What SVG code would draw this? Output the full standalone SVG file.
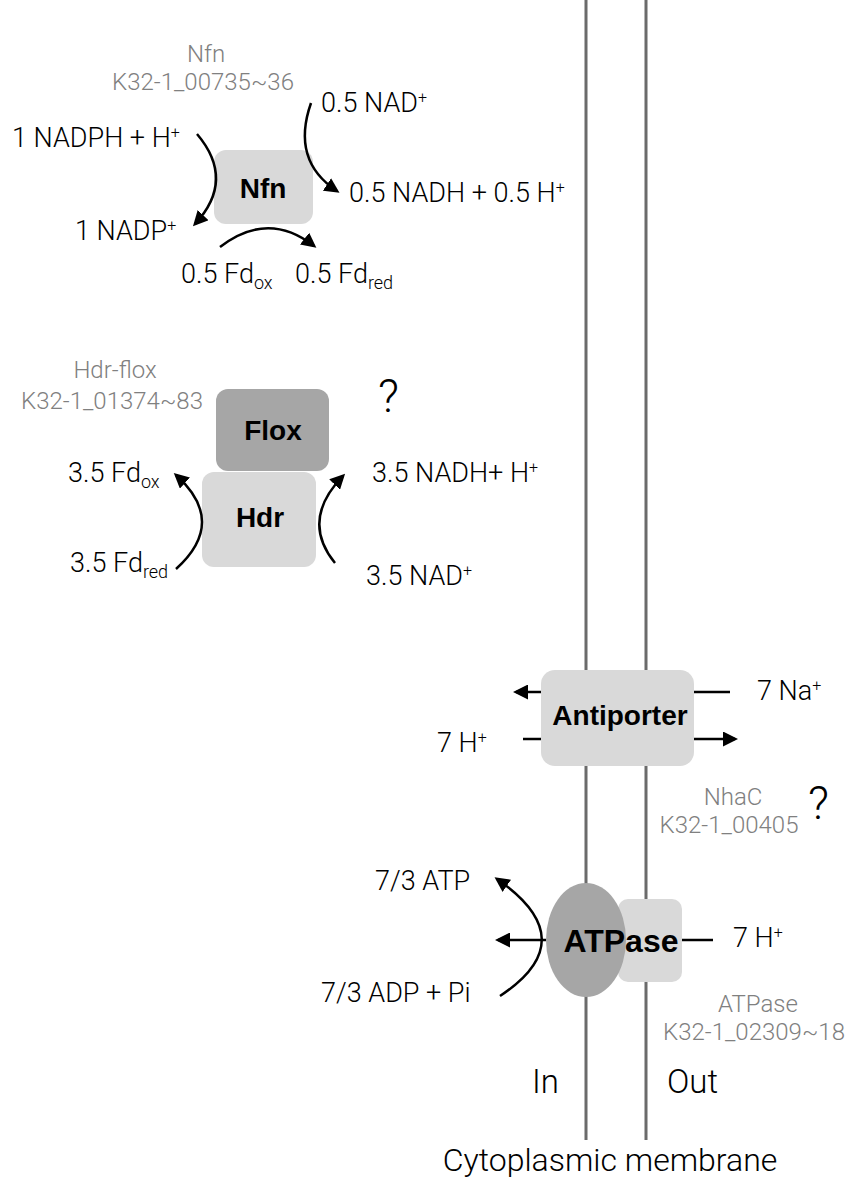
<svg xmlns="http://www.w3.org/2000/svg" width="851" height="1197" viewBox="0 0 851 1197">
<defs>
<style>
.t{font-family:Roboto,"Liberation Sans",sans-serif;font-weight:300;font-size:27px;fill:#000}
.g{font-family:Roboto,"Liberation Sans",sans-serif;font-weight:300;font-size:24px;fill:#808080}
.b{font-family:"Liberation Sans",Arial,sans-serif;font-weight:bold;fill:#000}
.q{font-family:Roboto,"Liberation Sans",sans-serif;font-weight:300;font-size:46px;fill:#000}
.sp{font-size:16px}
.sb{font-size:18px}
.lt{fill:#d9d9d9}
.dk{fill:#a6a6a6}
.mem{stroke:#6b6b6b;stroke-width:3;fill:none}
.c{stroke:#000;stroke-width:2.5;fill:none;marker-end:url(#ah)}
.l{stroke:#000;stroke-width:2.5;fill:none}
</style>
<marker id="ah" viewBox="0 0 10 10" refX="8" refY="5" markerWidth="6" markerHeight="6" markerUnits="strokeWidth" orient="auto">
<path d="M0,0 L10,5 L0,10 z" fill="#000"/>
</marker>
</defs>
<rect width="851" height="1197" fill="#fff"/>
<g id="membrane">
<line class="mem" x1="586" y1="0" x2="586" y2="1140"/>
<line class="mem" x1="646" y1="0" x2="646" y2="1140"/>
<text class="t" x="532" y="1093" style="font-size:33px">In</text>
<text class="t" x="667" y="1093" style="font-size:33px">Out</text>
<text class="t" x="610" y="1171" text-anchor="middle" style="font-size:32px">Cytoplasmic membrane</text>
</g>
<g id="nfn">
<text class="g" x="206" y="62" text-anchor="middle">Nfn</text>
<text class="g" x="203" y="90" text-anchor="middle">K32-1_00735~36</text>
<rect class="lt" x="214" y="150" width="99" height="74" rx="12"/>
<text class="b" x="263" y="198" text-anchor="middle" font-size="28">Nfn</text>
</g>
<g id="nfn-labels">
<text class="t" x="321" y="112">0.5 NAD<tspan class="sp" dy="-9">+</tspan></text>
<text class="t" x="12" y="147">1 NADPH + H<tspan class="sp" dy="-9">+</tspan></text>
<text class="t" x="349" y="202">0.5 NADH + 0.5 H<tspan class="sp" dy="-9">+</tspan></text>
<text class="t" x="75" y="240">1 NADP<tspan class="sp" dy="-9">+</tspan></text>
<text class="t" x="181" y="283">0.5 Fd<tspan class="sb" dy="6">ox</tspan></text>
<text class="t" x="295" y="283">0.5 Fd<tspan class="sb" dy="6">red</tspan></text>
</g>
<g id="hdrflox">
<text class="g" x="115" y="378" text-anchor="middle">Hdr-flox</text>
<text class="g" x="112" y="409" text-anchor="middle">K32-1_01374~83</text>
<text class="q" x="378" y="412">?</text>
<rect class="dk" x="216" y="389" width="113" height="82" rx="12"/>
<text class="b" x="273" y="440" text-anchor="middle" font-size="28">Flox</text>
<rect class="lt" x="202" y="472" width="114" height="95" rx="12"/>
<text class="b" x="260" y="527" text-anchor="middle" font-size="28">Hdr</text>
</g>
<g id="hdr-labels">
<text class="t" x="68" y="482">3.5 Fd<tspan class="sb" dy="6">ox</tspan></text>
<text class="t" x="70" y="572">3.5 Fd<tspan class="sb" dy="6">red</tspan></text>
<text class="t" x="372" y="482">3.5 NADH+ H<tspan class="sp" dy="-9">+</tspan></text>
<text class="t" x="366" y="585">3.5 NAD<tspan class="sp" dy="-9">+</tspan></text>
</g>
<g id="antiporter">
<rect class="lt" x="541" y="670" width="153" height="96" rx="14"/>
<text class="b" x="620" y="725" text-anchor="middle" font-size="28">Antiporter</text>
<text class="t" x="437" y="752">7 H<tspan class="sp" dy="-9">+</tspan></text>
<text class="t" x="757" y="700">7 Na<tspan class="sp" dy="-9">+</tspan></text>
<text class="g" x="733" y="805" text-anchor="middle">NhaC</text>
<text class="g" x="729" y="833" text-anchor="middle">K32-1_00405</text>
<text class="q" x="808" y="819">?</text>
</g>
<g id="atpase">
<rect class="lt" x="618" y="899" width="64" height="83" rx="10"/>
<ellipse class="dk" cx="586" cy="940" rx="40" ry="57"/>
<text class="b" x="621" y="952" text-anchor="middle" font-size="32">ATPase</text>
<text class="t" x="733" y="947">7 H<tspan class="sp" dy="-9">+</tspan></text>
<text class="t" x="375" y="890">7/3 ATP</text>
<text class="t" x="321" y="1002">7/3 ADP + Pi</text>
<text class="g" x="758" y="1012" text-anchor="middle">ATPase</text>
<text class="g" x="754" y="1040" text-anchor="middle">K32-1_02309~18</text>
</g>
<g id="connectors">
<path class="c" d="M197,134 Q236,180 195,224"/>
<path class="c" d="M311,103 C298,140 305,170 337,191"/>
<path class="c" d="M220,247 Q268,210 314,246"/>
<path class="c" d="M176,569 Q228,522 176,475"/>
<path class="c" d="M335,563 Q300,520 343,476"/>
<line class="c" x1="541" y1="692" x2="516" y2="692"/>
<line class="l" x1="523" y1="739" x2="541" y2="739"/>
<line class="l" x1="694" y1="692" x2="730" y2="692"/>
<line class="c" x1="694" y1="739" x2="735" y2="739"/>
<line class="l" x1="682" y1="940" x2="713" y2="940"/>
<line class="c" x1="546" y1="940" x2="498" y2="940"/>
<path class="c" d="M500,996 Q585,940 497,879"/>
</g>
</svg>
